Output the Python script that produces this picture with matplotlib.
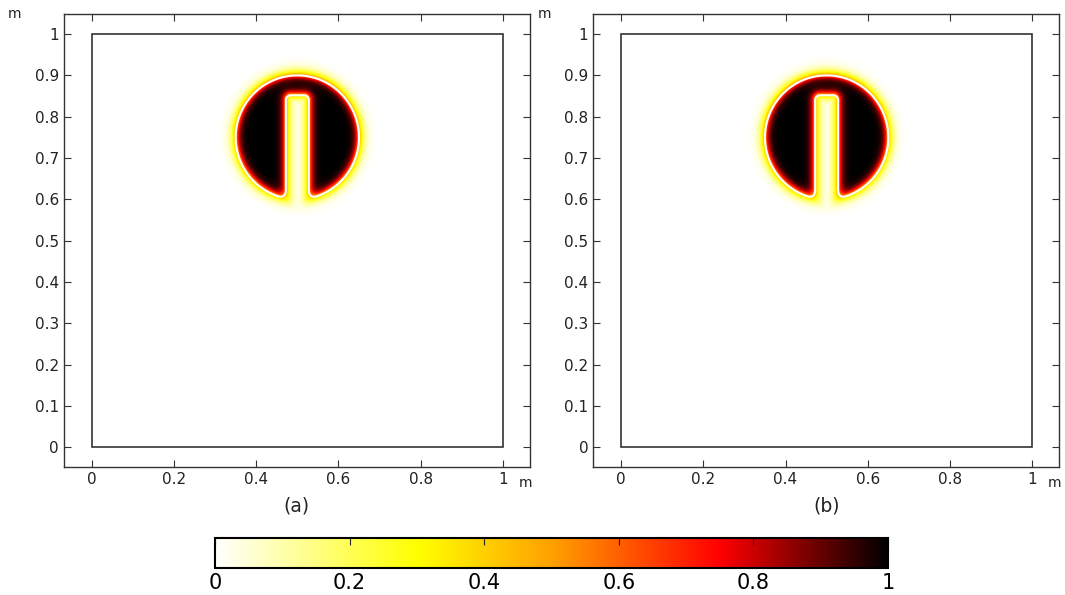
import numpy as np
import matplotlib.pyplot as plt
from matplotlib.colors import LinearSegmentedColormap
from matplotlib.patches import Rectangle

# slotted disk (level set) parameters
disk_center = [0.5, 0.75]
disk_radius = 0.15
slot_width = 0.056
slot_top = 0.852
slot_corner = 0.012
eps_inside = 0.006
eps_outside = 0.008
panel_labels = ['(a)', '(b)']
ytick_values = [0, 0.1, 0.2, 0.3, 0.4, 0.5, 0.6, 0.7, 0.8, 0.9, 1]
ytick_labels = ['0', '0.1', '0.2', '0.3', '0.4', '0.5', '0.6', '0.7', '0.8', '0.9', '1']
xtick_values = [0, 0.2, 0.4, 0.6, 0.8, 1]
xtick_labels = ['0', '0.2', '0.4', '0.6', '0.8', '1']
cbar_ticks = [0, 0.2, 0.4, 0.6, 0.8, 1]

heat = LinearSegmentedColormap.from_list('heat', [
    (0.0, '#ffffff'), (0.3, '#ffff00'), (0.5, '#ffa000'),
    (0.75, '#ff0000'), (1.0, '#000000')])


def smin(a, b, k):
    h = np.maximum(k - np.abs(a - b), 0) / k
    return np.minimum(a, b) - h * h * k / 4


def level_set(n=900):
    x = np.linspace(0, 1, n)
    X, Y = np.meshgrid(x, x)
    cx, cy = disk_center
    d_disk = disk_radius - np.hypot(X - cx, Y - cy)
    # rounded slot rectangle, signed distance positive outside
    y0 = cy - disk_radius - 0.05
    scy = (y0 + slot_top) / 2
    hx = slot_width / 2 - slot_corner
    hy = (slot_top - y0) / 2 - slot_corner
    qx = np.abs(X - cx) - hx
    qy = np.abs(Y - scy) - hy
    d_slot = (np.hypot(np.maximum(qx, 0), np.maximum(qy, 0))
              + np.minimum(np.maximum(qx, qy), 0) - slot_corner)
    d = smin(d_disk, d_slot, 0.02)
    eps = np.where(d > 0, eps_inside, eps_outside)
    return X, Y, 1 / (1 + np.exp(-d / eps))


X, Y, phi = level_set()

fig = plt.figure(figsize=(10.65, 5.95), dpi=100)
axes = [fig.add_axes([0.060, 0.215, 0.4376, 0.761]),
        fig.add_axes([0.557, 0.215, 0.4376, 0.761])]

for ax, lab in zip(axes, panel_labels):
    im = ax.imshow(phi, extent=[0, 1, 0, 1], origin='lower', cmap=heat,
                   vmin=0, vmax=1, interpolation='bilinear')
    ax.contour(X, Y, phi, levels=[0.5], colors='white', linewidths=1.5)
    ax.add_patch(Rectangle((0, 0), 1, 1, fill=False, edgecolor='#333333', lw=1.2))
    ax.set_xlim(-0.068, 1.066)
    ax.set_ylim(-0.048, 1.048)
    ax.set_aspect('auto')
    ax.set_xticks(xtick_values)
    ax.set_xticklabels(xtick_labels)
    ax.set_yticks(ytick_values)
    ax.set_yticklabels(ytick_labels)
    ax.tick_params(direction='in', top=True, right=True, length=5,
                   labelsize=11, colors='#333333', labelcolor='#222222')
    for s in ax.spines.values():
        s.set_color('#333333')
        s.set_linewidth(1.0)
    ax.text(-0.105, 1.0, 'm', transform=ax.transAxes, fontsize=10,
            ha='center', va='center', color='#222222')
    ax.text(0.99, -0.035, 'm', transform=ax.transAxes, fontsize=10,
            ha='center', va='center', color='#222222')
    ax.text(0.5, -0.065, lab, transform=ax.transAxes, fontsize=13.5,
            ha='center', va='top', color='#222222')

cax = fig.add_axes([0.2019, 0.0454, 0.632, 0.0504])
cb = fig.colorbar(im, cax=cax, orientation='horizontal', ticks=cbar_ticks)
cb.ax.set_xticklabels(['0', '0.2', '0.4', '0.6', '0.8', '1'])
cb.ax.tick_params(direction='in', top=True, bottom=False, length=5,
                  labelsize=15, color='#222222')
cb.outline.set_linewidth(1.5)

fig.savefig('out.png', dpi=100)
